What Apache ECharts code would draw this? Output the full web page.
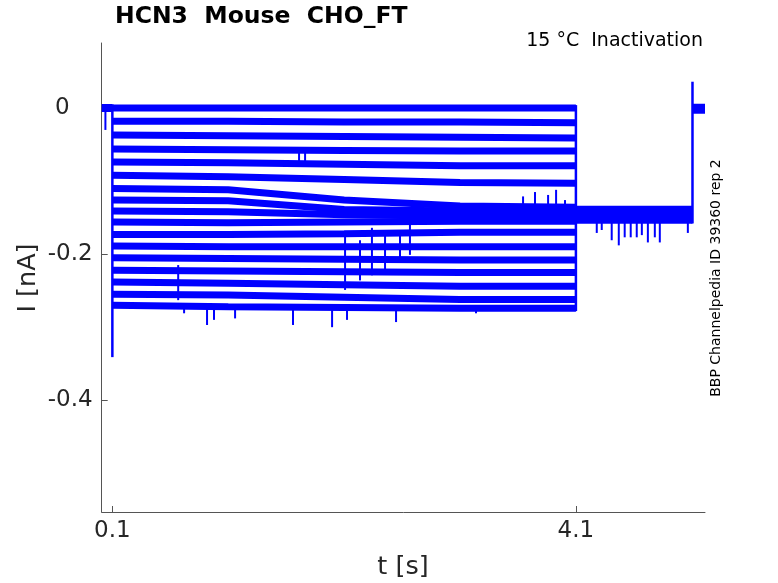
<!DOCTYPE html>
<html>
<head>
<meta charset="utf-8">
<script src="https://cdn.jsdelivr.net/npm/echarts@6/dist/echarts.min.js"></script>
<style>
html,body{margin:0;padding:0;background:#fff;}
#chart{width:778px;height:583px;}
</style>
</head>
<body>
<div id="chart"></div>
<script>
//字体
var FONT = 'DejaVu Sans';
var BLUE = '#0000ff';

//时间节点 (s)
var tKnots = [0.1, 1.1, 2.1, 3.1, 4.1];

//各条记录在测试脉冲期间的电流 (nA)
var traceLevels = [
	[0, 0, 0, 0, 0],
	[-0.018, -0.018, -0.019, -0.019, -0.020],
	[-0.037, -0.038, -0.039, -0.040, -0.041],
	[-0.056, -0.057, -0.058, -0.059, -0.059],
	[-0.074, -0.075, -0.077, -0.079, -0.079],
	[-0.092, -0.094, -0.098, -0.102, -0.103],
	[-0.110, -0.112, -0.126, -0.134, -0.136],
	[-0.126, -0.127, -0.139, -0.141, -0.142],
	[-0.141, -0.142, -0.146, -0.148, -0.148],
	[-0.156, -0.157, -0.156, -0.155, -0.155],
	[-0.173, -0.173, -0.172, -0.170, -0.170],
	[-0.189, -0.190, -0.190, -0.190, -0.190],
	[-0.205, -0.206, -0.207, -0.208, -0.208],
	[-0.222, -0.223, -0.224, -0.225, -0.225],
	[-0.238, -0.240, -0.242, -0.244, -0.244],
	[-0.255, -0.256, -0.259, -0.262, -0.262],
	[-0.270, -0.272, -0.273, -0.274, -0.274]
];

//保持电位段
var preStep = [[0.008, 0], [0.1, 0]];
var tailStep = [[4.1, -0.146], [5.106, -0.146]];
var postStep = [[5.106, -0.001], [5.214, -0.001]];

//跳变竖线 [t, 起, 止]
var stepEdges = [
	[0.1, 0.005, -0.341],
	[4.1, 0.004, -0.278],
	[5.106, -0.158, 0.036]
];

//噪声尖峰 [t, 起, 止]
var spikes = [
	[0.04, 0, -0.030],
	[0.668, -0.215, -0.263],
	[0.719, -0.270, -0.281],
	[0.917, -0.270, -0.297],
	[0.977, -0.270, -0.290],
	[1.159, -0.270, -0.288],
	[1.659, -0.270, -0.297],
	[1.711, -0.058, -0.079],
	[1.763, -0.058, -0.079],
	[1.996, -0.270, -0.300],
	[2.108, -0.174, -0.249],
	[2.125, -0.270, -0.290],
	[2.237, -0.181, -0.236],
	[2.340, -0.164, -0.229],
	[2.453, -0.170, -0.222],
	[2.548, -0.270, -0.293],
	[2.582, -0.167, -0.211],
	[2.668, -0.160, -0.201],
	[3.238, -0.270, -0.281],
	[3.644, -0.121, -0.142],
	[3.747, -0.115, -0.142],
	[3.860, -0.119, -0.142],
	[3.929, -0.112, -0.142],
	[4.006, -0.126, -0.147],
	[4.280, -0.155, -0.171],
	[4.323, -0.155, -0.167],
	[4.409, -0.155, -0.181],
	[4.470, -0.155, -0.188],
	[4.521, -0.155, -0.177],
	[4.573, -0.155, -0.177],
	[4.625, -0.155, -0.177],
	[4.669, -0.155, -0.174],
	[4.721, -0.155, -0.184],
	[4.781, -0.155, -0.177],
	[4.824, -0.155, -0.184],
	[5.066, -0.155, -0.171]
];

//刻度
var xTicks = [0.1, 4.1];
var yTicks = [0, -0.2, -0.4];

/**
 * 竖线 custom series
 */
function vSegSeries(data, width){
	return {
		type: 'custom',
		data: data,
		encode: {x: 0, y: [1, 2]},
		silent: true,
		z: 3,
		renderItem: function(params, api){
			var p1 = api.coord([api.value(0), api.value(1)]);
			var p2 = api.coord([api.value(0), api.value(2)]);
			return {
				type: 'line',
				shape: {x1: p1[0], y1: p1[1], x2: p2[0], y2: p2[1]},
				style: {stroke: BLUE, lineWidth: width}
			};
		}
	};
}

/**
 * 横向电流带
 */
function bandSeries(data, width){
	return {
		type: 'line',
		data: data,
		showSymbol: false,
		silent: true,
		lineStyle: {color: BLUE, width: width},
		z: 2
	};
}

var series = [];
series.push(bandSeries(preStep, 8));
traceLevels.forEach(function(lv){
	series.push(bandSeries(tKnots.map(function(t, k){ return [t, lv[k]]; }), 7));
});
series.push(bandSeries(tailStep, 18));
series.push(bandSeries(postStep, 10));
series.push(vSegSeries(stepEdges, 2.5));
series.push(vSegSeries(spikes, 2));

var chart = echarts.init(document.getElementById('chart'));
chart.setOption({
	animation: false,
	backgroundColor: '#fff',
	textStyle: {fontFamily: FONT},
	grid: {left: 101.7, right: 73, top: 43, bottom: 71, containLabel: false},
	xAxis: {
		type: 'value',
		min: 0.008,
		max: 5.214,
		axisLine: {show: true, onZero: false, lineStyle: {color: '#555', width: 1}},
		axisTick: {show: true, inside: true, length: 6, customValues: xTicks, lineStyle: {color: '#555'}},
		axisLabel: {customValues: xTicks, fontSize: 23, color: '#262626', margin: 8, fontFamily: FONT},
		splitLine: {show: false}
	},
	yAxis: {
		type: 'value',
		min: -0.553,
		max: 0.089,
		axisLine: {show: true, onZero: false, lineStyle: {color: '#555', width: 1}},
		axisTick: {show: true, inside: true, length: 6, customValues: yTicks, lineStyle: {color: '#555'}},
		axisLabel: {
			customValues: yTicks, fontSize: 23, color: '#262626', margin: 9, fontFamily: FONT,
			formatter: function(v){ return v === 0 ? '{z|0}' : String(v); },
			rich: {z: {fontSize: 23, fontFamily: FONT, color: '#262626', padding: [0, 23, 0, 0]}}
		},
		splitLine: {show: false}
	},
	graphic: [
		{type: 'text', left: 115, top: 5, style: {text: 'HCN3  Mouse  CHO_FT', font: 'bold 23.5px ' + FONT, fill: '#000'}},
		{type: 'text', x: 703, y: 41, style: {text: '15 °C  Inactivation', font: '19px ' + FONT, fill: '#000', align: 'right', verticalAlign: 'middle'}},
		{type: 'text', x: 716, y: 278, rotation: Math.PI / 2, style: {text: 'BBP Channelpedia ID 39360 rep 2', font: '14px ' + FONT, fill: '#000', align: 'center', verticalAlign: 'middle'}},
		{type: 'text', x: 28, y: 278, rotation: Math.PI / 2, style: {text: 'I [nA]', font: '25.5px ' + FONT, fill: '#262626', align: 'center', verticalAlign: 'middle'}},
		{type: 'text', x: 403, y: 567, style: {text: 't [s]', font: '25.5px ' + FONT, fill: '#262626', align: 'center', verticalAlign: 'middle'}}
	],
	series: series
});
</script>
</body>
</html>
